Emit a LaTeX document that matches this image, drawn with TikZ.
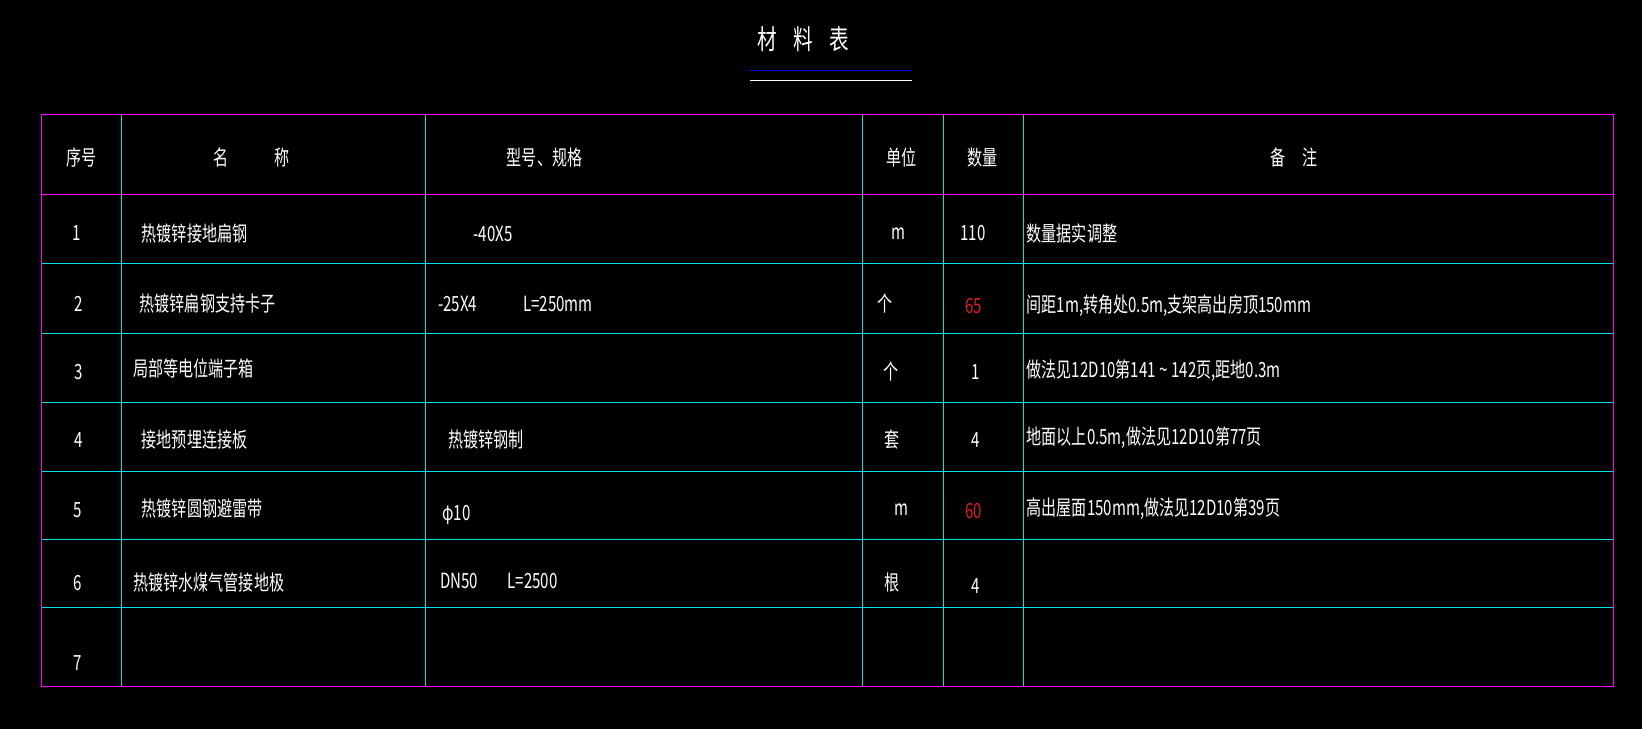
\documentclass[tikz,border=0pt]{standalone}
\usepackage{fontspec}
\setmainfont{Noto Sans CJK SC}[FakeStretch=0.72]
\definecolor{mag}{RGB}{255,0,255}
\definecolor{cyn}{RGB}{0,230,230}
\begin{document}
\begin{tikzpicture}[x=0.5pt,y=-0.5pt,
  t/.style={text=white,font=\fontsize{10}{10}\selectfont,inner sep=0pt},
  l/.style={t,anchor=west},
  red/.style={t,text={rgb,255:red,220;green,30;blue,30}}]
\fill[black] (0,0) rectangle (1568,696);
\useasboundingbox (0,0) rectangle (1568,696);
% title
\node[t,font=\fontsize{13}{13}\selectfont] (title) at (767,37) {材\hspace{0.6em}料\hspace{0.6em}表};
\draw[blue,line width=0.5pt] (716,67) -- (871,67);
\draw[white,line width=0.5pt] (716,77) -- (871,77);
% grid
\foreach \x in {116,406,824,901,977} \draw[cyn,line width=0.4pt] (\x,109) -- (\x,656);
\foreach \y in {252,318,384,450,515,580} \draw[cyn,line width=0.4pt] (40,\y) -- (1541,\y);
\draw[mag,line width=0.5pt] (40,186) -- (1541,186);
\draw[mag,line width=0.5pt] (40,109) rectangle (1541,656);
% header
\node[t] (h1) at (78,150) {序号};
\node[t] (h2) at (240,150) {名\hspace{2.2em}称};
\node[t] (h3) at (520,150) {型号、规格};
\node[t] (h4) at (861,150) {单位};
\node[t] (h5) at (938,150) {数量};
\node[t] (h6) at (1236,150) {备\hspace{0.8em}注};
% rows
\node[t] (n1) at (73,223) {1};
\node[l] (a1) at (135,223) {热镀锌接地扁钢};
\node[l] (b1) at (452,223) {-40X5};
\node[t] (c1) at (858,223) {m};
\node[t] (d1) at (929,223) {110};
\node[l] (e1) at (980,223) {数量据实调整};
\node[t] (n2) at (75,290) {2};
\node[l] (a2) at (133,290) {热镀锌扁钢支持卡子};
\node[l] (b2) at (418,290) {-25X4\hspace{2.2em}L=250mm};
\node[t] (c2) at (845,290) {个};
\node[red] (d2) at (930,292) {65};
\node[l] (e2) at (980,292) {间距1m,转角处0.5m,支架高出房顶150mm};
\node[t] (n3) at (75,355) {3};
\node[l] (a3) at (127,352) {局部等电位端子箱};
\node[t] (c3) at (851,355) {个};
\node[t] (d3) at (932,355) {1};
\node[l] (e3) at (980,354) {做法见12D10第141\,\char`~\,142页,距地0.3m};
\node[t] (n4) at (75,420) {4};
\node[l] (a4) at (135,420) {接地预埋连接板};
\node[l] (b4) at (428,420) {热镀锌钢制};
\node[t] (c4) at (852,420) {套};
\node[t] (d4) at (932,420) {4};
\node[l] (e4) at (980,418) {地面以上0.5m,做法见12D10第77页};
\node[t] (n5) at (74,487) {5};
\node[l] (a5) at (135,486) {热镀锌圆钢避雷带};
\node[l] (b5) at (422,492) {φ10};
\node[t] (c5) at (861,487) {m};
\node[red] (d5) at (930,488) {60};
\node[l] (e5) at (980,486) {高出屋面150mm,做法见12D10第39页};
\node[t] (n6) at (74,557) {6};
\node[l] (a6) at (127,556) {热镀锌水煤气管接地极};
\node[l] (b6) at (420,555) {DN50\hspace{1.4em}L=2500};
\node[t] (c6) at (852,556) {根};
\node[t] (d6) at (932,560) {4};
\node[t] (n7) at (74,633) {7};
\end{tikzpicture}
\end{document}
